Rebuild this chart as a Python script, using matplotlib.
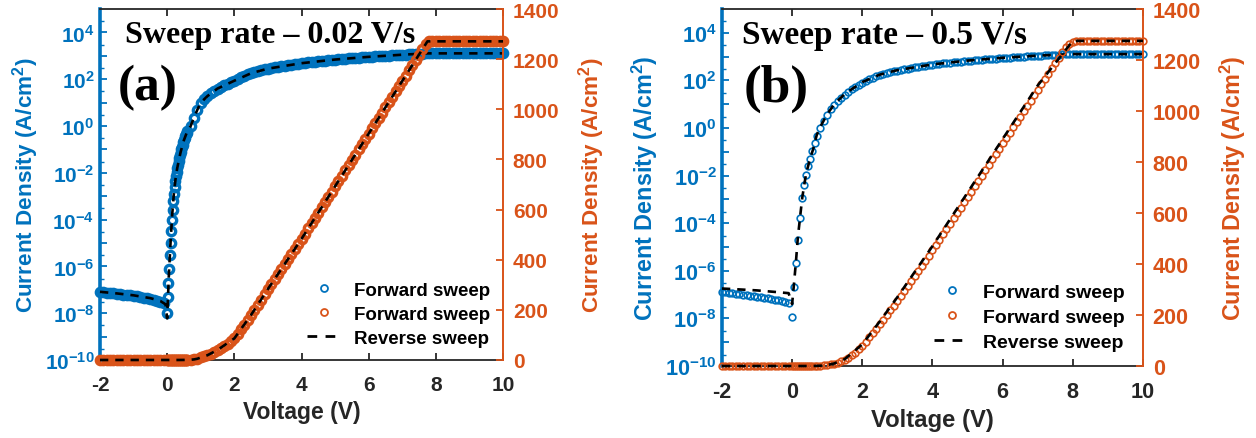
import numpy as np
import matplotlib
matplotlib.use('Agg')
import matplotlib.pyplot as plt
from matplotlib.lines import Line2D
from matplotlib.ticker import FixedLocator, FuncFormatter, LogLocator, NullFormatter

plt.rcParams['font.family'] = ['Liberation Sans', 'DejaVu Sans']
plt.rcParams['font.weight'] = 'bold'
plt.rcParams['axes.labelweight'] = 'bold'
plt.rcParams['axes.unicode_minus'] = False
plt.rcParams['mathtext.fontset'] = 'custom'
plt.rcParams['mathtext.default'] = 'bf'
plt.rcParams['mathtext.rm'] = 'Liberation Sans:bold'
plt.rcParams['mathtext.it'] = 'Liberation Sans:bold'
plt.rcParams['mathtext.bf'] = 'Liberation Sans:bold'
plt.rcParams['lines.scale_dashes'] = False

BLUE = '#0072BD'
ORANGE = '#D95319'
DARK = '#262626'

# ---------------- panel (a): 0.02 V/s ----------------
va_neg = np.arange(-2.0, -0.05, 0.1)          # -2.0 .. -0.1
ja_neg = [8.0e-8, 7.75e-8, 7.5e-8, 7.25e-8, 7.0e-8, 6.75e-8, 6.5e-8, 6.25e-8, 6.0e-8, 5.75e-8,
          5.5e-8, 5.2e-8, 4.9e-8, 4.6e-8, 4.3e-8, 4.0e-8, 3.7e-8, 3.4e-8, 3.0e-8, 2.6e-8]
va_rise = np.arange(0.0, 0.61, 0.02)          # 0.00 .. 0.60
ja_rise = [1.0e-8, 5.0e-8, 2.0e-7, 8.0e-7, 3.2e-6, 1.0e-5, 3.2e-5, 1.0e-4, 2.5e-4, 6.3e-4,
           1.3e-3, 2.5e-3, 4.5e-3, 7.0e-3, 1.1e-2, 1.6e-2, 2.2e-2, 3.2e-2, 4.3e-2, 5.8e-2,
           7.6e-2, 0.10, 0.13, 0.16, 0.20, 0.25, 0.30, 0.36, 0.44, 0.51, 0.60]
va_high = np.arange(0.7, 10.01, 0.1)          # 0.7 .. 10.0
ja_high = [1.0, 2.3, 5.0, 10, 14, 19, 25, 32, 40, 48, 56, 65, 75, 86,
           104, 122, 141, 160, 180, 200, 221, 241, 262, 283,
           303, 323, 343, 363, 383, 403, 423, 443, 463, 483,
           504, 525, 546, 567, 588, 609, 630, 651, 672, 693,
           714, 735, 756, 777, 798, 819, 840, 861, 882, 903,
           924, 945, 966, 987, 1008, 1029, 1050, 1071, 1092, 1113,
           1134, 1155, 1176, 1197, 1218, 1239, 1260,
           1271, 1271, 1271, 1271, 1271, 1271, 1271, 1271, 1271, 1271, 1271,
           1271, 1271, 1271, 1271, 1271, 1271, 1271, 1271, 1271, 1271, 1271, 1271]
va_rev = [-2, -1.5, -1, -0.5, -0.2, -0.05, 0, 0.05, 0.1, 0.15, 0.2, 0.25, 0.3,
          0.4, 0.5, 0.6, 0.7, 0.8, 0.9, 1.0, 1.2, 1.5, 2, 2.5, 3, 4, 5, 6, 7, 7.75, 8, 9, 10]
ja_rev = [8.2e-8, 7.0e-8, 5.8e-8, 4.4e-8, 3.3e-8, 2.4e-8, 6e-9, 4e-7, 1e-5, 1.6e-4, 1.3e-3, 5.5e-3, 1.6e-2,
          7.6e-2, 0.25, 0.6, 1.0, 2.3, 5.0, 10, 19, 40, 86, 180, 283, 483, 693, 903, 1113, 1271,
          1271, 1271, 1271]

# ---------------- panel (b): 0.5 V/s ----------------
vb_neg = np.arange(-2.0, -0.05, 0.1)
jb_neg = [1.30e-7, 1.25e-7, 1.20e-7, 1.15e-7, 1.10e-7, 1.05e-7, 1.0e-7, 9.5e-8, 9.1e-8, 8.7e-8,
          8.3e-8, 7.9e-8, 7.5e-8, 7.1e-8, 6.7e-8, 6.2e-8, 5.8e-8, 5.3e-8, 4.8e-8, 4.4e-8]
vb_rise = [0.0, 0.05, 0.11, 0.16, 0.23, 0.29, 0.35, 0.40, 0.46, 0.52, 0.58, 0.64, 0.70]
jb_rise = [1.2e-8, 2.1e-7, 2.1e-6, 1.9e-5, 1.7e-4, 1.1e-3, 4.1e-3, 1.1e-2, 2.6e-2, 5.1e-2, 0.11, 0.24, 0.48]
vb_high = np.arange(0.8, 10.01, 0.1)
jb_high = [1.0, 2.0, 3.5, 6.0, 9.5, 13.5, 18.6, 25, 33, 42, 52, 65, 79,
           95, 112, 129, 146, 164, 182, 200, 218, 237, 256,
           275, 294, 313, 333, 353, 373, 393, 413, 433, 453,
           474, 495, 516, 537, 558, 579, 600, 621, 642, 663,
           684, 705, 726, 747, 768, 789, 810, 831, 852, 873,
           894, 915, 936, 957, 978, 999, 1020, 1041, 1062, 1083,
           1104, 1125, 1146, 1167, 1188, 1209, 1230, 1250, 1264, 1272,
           1275, 1275, 1275, 1275, 1275, 1275, 1275, 1275, 1275, 1275,
           1275, 1275, 1275, 1275, 1275, 1275, 1275, 1275, 1275, 1275]
vb_rev = [-2, -1.5, -1, -0.5, -0.1, 0.0, 0.05, 0.11, 0.16, 0.23, 0.29, 0.35, 0.4,
          0.5, 0.6, 0.7, 0.8, 1.0, 1.2, 1.5, 2, 2.5, 3, 4, 5, 6, 7, 8, 9, 10]
jb_rev = [1.8e-7, 1.65e-7, 1.5e-7, 1.3e-7, 1.15e-7, 4e-8, 2.5e-7, 2.5e-6, 2.2e-5, 2e-4, 1.2e-3, 4.5e-3, 1.2e-2,
          4.5e-2, 0.13, 0.5, 1.1, 3.8, 10, 27, 85, 175, 270, 470, 680, 890, 1100, 1275, 1275, 1275]

va = np.concatenate([va_neg, va_rise, va_high])
ja = np.array(ja_neg + ja_rise + ja_high)
vb = np.concatenate([vb_neg, vb_rise, vb_high])
jb = np.array(jb_neg + jb_rise + jb_high)

xticks = [-2, 0, 2, 4, 6, 8, 10]
rticks = [0, 200, 400, 600, 800, 1000, 1200, 1400]


def log_fmt(y, pos):
    e = int(round(np.log10(y)))
    return r'$10^{%d}$' % e if e % 2 == 0 else ''


def panel(rect, vf, jf, vr, jr, title, tag, ms, mew, tpos, apos, leg_anchor, lab_x, k):
    # k: overall text scale of the panel
    ax = fig.add_axes(rect)
    ax2 = ax.twinx()
    ax.set_xlim(-2, 10)
    ax.set_yscale('log')
    ax.set_ylim(1e-10, 1e5)
    ax2.set_ylim(0, 1400)

    ax.plot(vf, jf, 'o', mfc='none', mec=BLUE, ms=ms, mew=mew, clip_on=False, zorder=3)
    ax.plot(vr, jr, color='k', lw=1.9, dashes=(6, 5), clip_on=False, zorder=4)
    ax2.plot(vf, jf, 'o', mfc='none', mec=ORANGE, ms=ms, mew=mew, clip_on=False, zorder=3)
    ax2.plot(vr, jr, color='k', lw=1.9, dashes=(6, 5), clip_on=False, zorder=4)

    ax.set_xticks(xticks)
    ax.yaxis.set_major_locator(FixedLocator(10.0 ** np.arange(-10, 5)))
    ax.yaxis.set_major_formatter(FuncFormatter(log_fmt))
    ax.yaxis.set_minor_locator(LogLocator(base=10, subs=(3.0,), numticks=40))
    ax.yaxis.set_minor_formatter(NullFormatter())
    ax2.set_yticks(rticks)

    tfs = 15 * k
    ax.tick_params(axis='x', direction='in', top=True, length=5, width=1.3, color=DARK,
                   labelcolor=DARK, labelsize=tfs, pad=11)
    ax.tick_params(axis='y', which='major', direction='in', length=5, width=1.3, color=BLUE,
                   labelcolor=BLUE, labelsize=tfs, pad=4)
    ax.tick_params(axis='y', which='minor', direction='in', length=3, width=1.0, color=BLUE)
    ax2.tick_params(axis='y', direction='in', length=5, width=1.3, color=ORANGE,
                    labelcolor=ORANGE, labelsize=tfs, pad=7)
    for lbl in ax.get_xticklabels() + ax.get_yticklabels() + ax2.get_yticklabels():
        lbl.set_fontweight('bold')

    for s in ('top', 'bottom'):
        ax.spines[s].set_color(DARK)
        ax.spines[s].set_linewidth(1.3)
        ax2.spines[s].set_visible(False)
    ax.spines['left'].set_color(BLUE)
    ax.spines['left'].set_linewidth(2.6)
    ax.spines['right'].set_visible(False)
    ax2.spines['left'].set_visible(False)
    ax2.spines['right'].set_color(ORANGE)
    ax2.spines['right'].set_linewidth(1.4)

    ax.set_xlabel('Voltage (V)', fontsize=16.5 * k, color=DARK, labelpad=4)
    ax.set_ylabel('Current Density (A/cm$^2$)', fontsize=16.2 * k, color=BLUE)
    ax2.set_ylabel('Current Density (A/cm$^2$)', fontsize=16.2 * k, color=ORANGE)
    ax.yaxis.set_label_coords(lab_x[0], 0.5)
    ax2.yaxis.set_label_coords(lab_x[1], 0.5)

    ax2.text(tpos[0], tpos[1], title, transform=ax2.transAxes, family='Liberation Serif',
             weight='bold', fontsize=23 * k, ha='left', va='baseline', color='black')
    ax2.text(apos[0], apos[1], tag, transform=ax2.transAxes, family='Liberation Serif',
             weight='bold', fontsize=37 * k, ha='left', va='baseline', color='black')

    handles = [Line2D([], [], marker='o', ls='none', mfc='none', mec=BLUE, ms=5, mew=1.3),
               Line2D([], [], marker='o', ls='none', mfc='none', mec=ORANGE, ms=5, mew=1.3),
               Line2D([], [], color='k', lw=2.0, dashes=(7, 6))]
    leg = ax2.legend(handles, ['Forward sweep', 'Forward sweep', 'Reverse sweep'],
                     loc='lower right', bbox_to_anchor=leg_anchor, frameon=False,
                     fontsize=13.5 * k, handlelength=1.8, handletextpad=0.7,
                     labelspacing=0.36, borderpad=0, borderaxespad=0)
    for t in leg.get_texts():
        t.set_color('black')
        t.set_fontweight('bold')
    return ax, ax2


fig = plt.figure(figsize=(12.56, 4.39), dpi=100)

panel([0.0796, 0.1777, 0.3209, 0.7995], va, ja, va_rev, ja_rev,
      'Sweep rate \u2013 0.02 V/s', '(a)', 6.0, 2.4,
      (0.062, 0.906), (0.045, 0.744), (0.968, 0.038), (-0.146, 1.181), 1.0)
panel([0.5748, 0.164, 0.3352, 0.8132], vb, jb, vb_rev, jb_rev,
      'Sweep rate \u2013 0.5 V/s', '(b)', 4.8, 1.2,
      (0.047, 0.905), (0.052, 0.742), (0.957, 0.043), (-0.147, 1.178), 1.04)

fig.savefig('out.png', dpi=100, facecolor='white')
